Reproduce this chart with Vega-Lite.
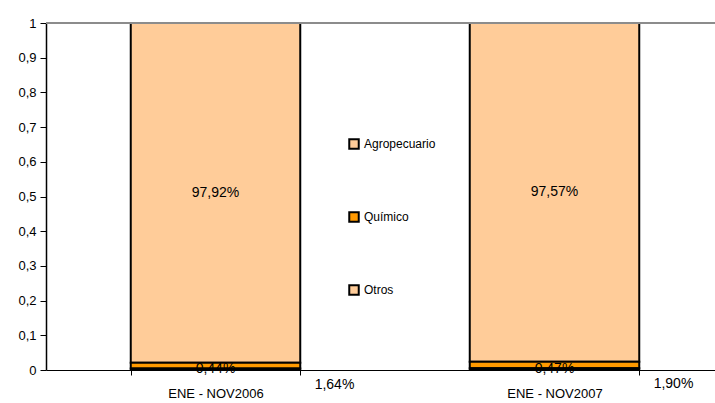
{
  "$schema": "https://vega.github.io/schema/vega-lite/v6.json",
  "width": 669,
  "height": 347,
  "autosize": "none",
  "padding": {"left": 46, "top": 23, "right": 0, "bottom": 33},
  "background": "white",
  "config": {
    "view": {"stroke": null},
    "font": "Liberation Sans",
    "locale": {"number": {"decimal": ",", "thousands": ".", "grouping": [3], "currency": ["", " €"]}},
    "axis": {"labelFont": "Liberation Sans", "labelFontSize": 13, "labelColor": "black", "domainColor": "black", "tickColor": "black", "domainWidth": 1.5, "grid": false},
    "axisQuantitative": {"tickCount": 11, "labelOverlap": false, "labelSeparation": 0, "labelBound": false},
    "axisY": {"tickCount": 11, "labelOverlap": false, "labelSeparation": 0, "labelBound": false}
  },
  "data": {"values": [
    {"periodo": "ENE - NOV2006", "serie": "Agropecuario", "valor": 0.9792, "ord": 3},
    {"periodo": "ENE - NOV2006", "serie": "Químico", "valor": 0.0164, "ord": 2},
    {"periodo": "ENE - NOV2006", "serie": "Otros", "valor": 0.0044, "ord": 1},
    {"periodo": "ENE - NOV2007", "serie": "Agropecuario", "valor": 0.9757, "ord": 3},
    {"periodo": "ENE - NOV2007", "serie": "Químico", "valor": 0.0190, "ord": 2},
    {"periodo": "ENE - NOV2007", "serie": "Otros", "valor": 0.0047, "ord": 1}
  ]},
  "transform": [
    {"stack": "valor", "groupby": ["periodo"], "sort": [{"field": "ord", "order": "ascending"}], "offset": "normalize", "as": ["y0", "y1"]},
    {"calculate": "(datum.y0 + datum.y1) / 2", "as": "ymid"}
  ],
  "encoding": {
    "x": {"field": "periodo", "type": "nominal", "title": null,
      "scale": {"paddingInner": 0.5, "paddingOuter": 0.25, "range": [0, 678]},
      "axis": {"labelAngle": 0, "tickBand": "extent", "tickSize": 5, "labelPadding": 12, "domainWidth": 1, "labelFontSize": 13}},
    "y": {"field": "y0", "type": "quantitative", "title": null,
      "scale": {"domain": [0, 1], "nice": false},
      "axis": {"values": [0, 0.1, 0.2, 0.3, 0.4, 0.5, 0.6, 0.7, 0.8, 0.9, 1], "tickCount": 11, "labelOverlap": false, "labelSeparation": 0, "labelBound": false, "tickSize": 6, "labelPadding": 4, "format": "~g"}}
  },
  "layer": [
    {
      "mark": {"type": "bar", "stroke": "black", "strokeWidth": 2},
      "encoding": {
        "y2": {"field": "y1"},
        "color": {"field": "serie", "type": "nominal",
          "scale": {"domain": ["Agropecuario", "Químico", "Otros"], "range": ["#FFCC99", "#FF9900", "#FFCC99"]},
          "legend": {"title": null, "orient": "none", "legendX": 302, "legendY": 115, "symbolType": "square", "symbolSize": 90, "symbolStrokeColor": "black", "symbolStrokeWidth": 2, "symbolOpacity": 1, "labelFontSize": 12, "labelColor": "black", "labelFont": "Liberation Sans", "rowPadding": 55, "labelOffset": 4}}
      }
    },
    {
      "mark": {"type": "rule", "color": "#8c8c8c", "strokeWidth": 2},
      "encoding": {"y": {"datum": 1, "type": "quantitative"}, "x": null}
    },
    {
      "transform": [{"filter": "datum.serie === 'Agropecuario'"}],
      "mark": {"type": "text", "fontSize": 14, "color": "black", "baseline": "middle"},
      "encoding": {"y": {"field": "ymid", "type": "quantitative"}, "text": {"field": "valor", "type": "quantitative", "format": ".2%"}}
    },
    {
      "transform": [{"filter": "datum.serie === 'Químico'"}],
      "mark": {"type": "text", "fontSize": 14, "color": "black", "baseline": "middle", "dx": 119, "dy": 19},
      "encoding": {"y": {"field": "ymid", "type": "quantitative"}, "text": {"field": "valor", "type": "quantitative", "format": ".2%"}}
    },
    {
      "transform": [{"filter": "datum.serie === 'Otros'"}],
      "mark": {"type": "text", "fontSize": 14, "color": "black", "baseline": "middle", "dy": 0},
      "encoding": {"y": {"field": "ymid", "type": "quantitative"}, "text": {"field": "valor", "type": "quantitative", "format": ".2%"}}
    }
  ]
}
